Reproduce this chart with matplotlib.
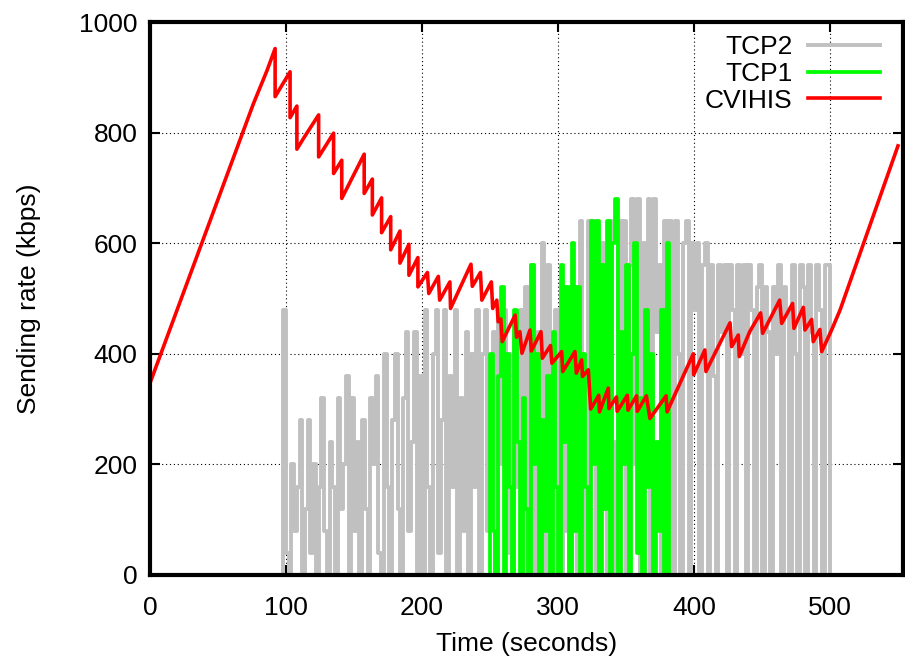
import numpy as np
import matplotlib
matplotlib.use("Agg")
import matplotlib.pyplot as plt

# CVIHIS sending rate (vertices of the sawtooth)
cvihis_t = [0, 76, 86, 92, 92, 103, 103, 108, 108, 113, 124, 124, 135, 135, 141, 141, 147,
            157.5, 157.5, 163.5, 163.5, 170.3, 170.3, 177, 177, 183.8, 183.8, 190.4, 190.4,
            197, 197, 204, 205, 212, 213, 220.5, 221, 236, 237, 243, 244, 251, 252, 255, 256,
            258, 259, 268.5, 269.5, 272, 273.5, 279.4, 280.4, 287.5, 288.5, 294.5, 295.5,
            302.7, 303.5, 312.5, 313.5, 317.4, 318, 322.3, 324, 330, 330.5, 337, 337.5, 343,
            343.5, 351, 351.5, 357.8, 358.3, 365, 367.6, 379.5, 380.2, 399.5, 399.8, 408,
            408.8, 426.5, 427.7, 432.6, 433.3, 441, 449, 450.5, 463, 464.5, 472.5, 473.5,
            480.4, 481.6, 486.5, 487.7, 492.6, 493.9, 501.2, 507.4, 550]
cvihis_v = [347, 852, 912, 952, 865, 910, 827, 848, 770, 790, 832, 756, 799, 726, 750, 681, 710,
            761, 690, 716, 651, 682, 619, 648, 588, 622, 564, 598, 542,
            574, 521, 547, 509, 540, 497, 530, 482, 562, 522, 547, 497, 530, 482, 497, 458,
            463, 422, 470, 430, 440, 401, 443, 405, 440, 392, 415, 383,
            404, 368, 404, 365, 389, 359, 371, 300, 325, 295, 338, 301, 322,
            296, 325, 298, 324, 296, 324, 283, 324, 295, 400, 362, 407,
            368, 456, 413, 434, 395, 440, 474, 437, 497, 455, 491, 446,
            484, 443, 462, 422, 444, 404, 443, 479, 776]

# TCP2 sending rate, one value every 2 s from t = 97
tcp2_start = 97
tcp2_v = [0, 480, 40, 0, 200, 80, 160, 280, 0, 120,
          280, 40, 200, 0, 160, 320, 80, 0, 240, 160,
          0, 320, 120, 200, 360, 0, 320, 80, 240, 0,
          280, 120, 0, 320, 200, 360, 40, 0, 400, 160,
          0, 280, 400, 120, 0, 320, 440, 80, 240, 440,
          0, 360, 0, 480, 160, 0, 400, 480, 40, 280,
          480, 0, 360, 160, 480, 0, 320, 80, 440, 0,
          400, 160, 480, 0, 400, 480, 80, 320, 440, 0,
          480, 200, 480, 40, 400, 0, 440, 160, 480, 0,
          520, 120, 560, 0, 440, 240, 600, 0, 560, 200,
          0, 480, 160, 0, 520, 80, 0, 440, 520, 0,
          640, 200, 0, 640, 320, 640, 0, 560, 600, 120,
          0, 640, 240, 0, 640, 400, 640, 0, 560, 680,
          200, 680, 0, 600, 320, 680, 0, 680, 440, 560,
          0, 640, 480, 640, 0, 640, 400, 0, 600, 640,
          0, 600, 480, 600, 0, 560, 600, 0, 560, 360,
          0, 560, 440, 560, 0, 560, 480, 0, 560, 400,
          560, 0, 560, 480, 0, 520, 560, 0, 520, 440,
          0, 520, 400, 560, 0, 520, 480, 0, 560, 400,
          0, 560, 520, 0, 560, 440, 0, 560, 480, 0,
          560, 560, 0]

# TCP1 sending rate, one value every 2 s from t = 249
tcp1_start = 249
tcp1_v = [0, 400, 80, 0, 360, 520, 0, 400, 160, 0,
          480, 240, 0, 320, 120, 0, 560, 200, 400, 0,
          280, 80, 360, 0, 440, 160, 0, 560, 240, 520,
          0, 600, 80, 520, 0, 400, 160, 0, 640, 200,
          640, 0, 560, 120, 640, 0, 600, 680, 0, 440,
          200, 560, 0, 400, 600, 40, 320, 0, 480, 160,
          400, 0, 240, 80, 480, 0, 600, 0]

tcp2_t = tcp2_start + 2 * np.arange(len(tcp2_v))
tcp1_t = tcp1_start + 2 * np.arange(len(tcp1_v))

plt.rcParams['font.family'] = ['Liberation Sans', 'DejaVu Sans']

fig = plt.figure(figsize=(9.05, 6.59), dpi=100)
ax = fig.add_axes([150 / 905, 1 - 575 / 659, (903 - 150) / 905, (575 - 22) / 659])

ax.plot(tcp2_t, tcp2_v, color='#c0c0c0', lw=2.8, label='TCP2', drawstyle='steps-mid')
ax.plot(tcp1_t, tcp1_v, color='#00ff00', lw=2.7, label='TCP1', drawstyle='steps-mid')
ax.plot(cvihis_t, cvihis_v, color='#ff0000', lw=2.6, label='CVIHIS')

ax.set_xlim(0, 553.7)
ax.set_ylim(0, 1000)
ax.set_xticks([0, 100, 200, 300, 400, 500])
ax.set_yticks([0, 200, 400, 600, 800, 1000])
ax.grid(True, color='black', linestyle=(0, (1, 2.5)), linewidth=0.8)
ax.tick_params(direction='in', length=7, width=1.5, labelsize=19,
               top=True, right=True)
ax.tick_params(axis='x', pad=15)
ax.tick_params(axis='y', pad=9)
for s in ax.spines.values():
    s.set_linewidth(3)

ax.set_xlabel('Time (seconds)', fontsize=19, labelpad=9)
ax.set_ylabel('Sending rate (kbps)', fontsize=19, labelpad=27)

leg = ax.legend(loc='upper right', frameon=False, fontsize=19, markerfirst=False,
                handlelength=2.73, handletextpad=0.57, labelspacing=0.1,
                borderaxespad=0.0, bbox_to_anchor=(0.983, 0.995))
for t in leg.get_texts():
    t.set_ha('right')

fig.savefig('out.png', dpi=100)
